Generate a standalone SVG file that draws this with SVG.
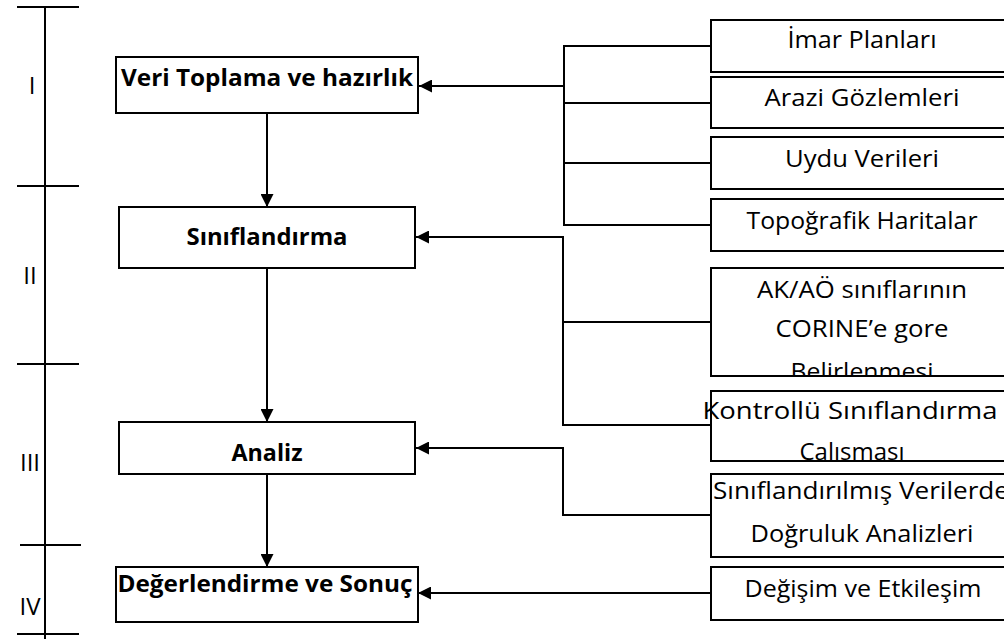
<svg xmlns="http://www.w3.org/2000/svg" width="1004" height="639" viewBox="0 0 1004 639">
<style>
.box{fill:#fff;stroke:#000;stroke-width:2}
.ln{fill:none;stroke:#000;stroke-width:2}
.b{font-family:"Open Sans","Liberation Sans",sans-serif;font-weight:bold;font-size:24px;fill:#000;text-anchor:middle}
.r{font-family:"Open Sans","Liberation Sans",sans-serif;font-size:24px;fill:#000;text-anchor:middle}
.n{font-family:"Open Sans","Liberation Sans",sans-serif;font-size:24px;fill:#000;text-anchor:middle}
</style>
<defs>
<marker id="ah" viewBox="0 0 10 10" refX="10" refY="5" markerWidth="14" markerHeight="13" markerUnits="userSpaceOnUse" orient="auto">
<path d="M0,0 L10,5 L0,10 z" fill="#000"/>
</marker>
<clipPath id="cE"><rect x="711" y="268" width="300" height="108"/></clipPath>
<clipPath id="cF"><rect x="690" y="391" width="320" height="70"/></clipPath>
</defs>
<rect width="1004" height="639" fill="#fff"/>

<g id="timeline">
<line class="ln" x1="45" y1="7" x2="45" y2="639"/>
<line class="ln" x1="17" y1="7" x2="79" y2="7"/>
<line class="ln" x1="17" y1="186" x2="79" y2="186"/>
<line class="ln" x1="17" y1="364" x2="79" y2="364"/>
<line class="ln" x1="20" y1="545" x2="81" y2="545"/>
<line class="ln" x1="17" y1="634" x2="79" y2="634"/>
<text class="n" x="32" y="94">I</text>
<text class="n" x="30" y="284">II</text>
<text class="n" x="30" y="471">III</text>
<text class="n" x="30" y="615">IV</text>
</g>

<g id="connectors">
<line class="ln" x1="267" y1="113" x2="267" y2="207" marker-end="url(#ah)"/>
<line class="ln" x1="267" y1="268" x2="267" y2="422" marker-end="url(#ah)"/>
<line class="ln" x1="267" y1="474" x2="267" y2="567" marker-end="url(#ah)"/>
<polyline class="ln" points="711,46 564,46 564,225 711,225"/>
<line class="ln" x1="564" y1="103" x2="711" y2="103"/>
<line class="ln" x1="564" y1="163" x2="711" y2="163"/>
<line class="ln" x1="564" y1="86" x2="419" y2="86" stroke-width="3" marker-end="url(#ah)"/>
<polyline class="ln" points="563,237 563,425 711,425"/>
<line class="ln" x1="563" y1="322" x2="711" y2="322"/>
<polyline class="ln" points="563,448 563,515 711,515"/>
<line class="ln" x1="711" y1="593" x2="418" y2="593" marker-end="url(#ah)"/>
<line class="ln" x1="564" y1="237" x2="416" y2="237" marker-end="url(#ah)"/>
<line class="ln" x1="564" y1="448" x2="416" y2="448" marker-end="url(#ah)"/>
</g>

<g id="veri">
<rect class="box" x="116" y="57" width="302" height="56"/>
<text class="b" x="267" y="86" textLength="292" lengthAdjust="spacingAndGlyphs">Veri Toplama ve hazırlık</text>
</g>
<g id="siniflandirma">
<rect class="box" x="119" y="207" width="296" height="61"/>
<text class="b" x="267" y="245" textLength="161" lengthAdjust="spacingAndGlyphs">Sınıflandırma</text>
</g>
<g id="analiz">
<rect class="box" x="119" y="422" width="296" height="52"/>
<text class="b" x="267" y="461" textLength="71" lengthAdjust="spacingAndGlyphs">Analiz</text>
</g>
<g id="degerlendirme">
<rect class="box" x="116" y="567" width="302" height="55"/>
<text class="b" x="265" y="592" textLength="295" lengthAdjust="spacingAndGlyphs">Değerlendirme ve Sonuç</text>
</g>

<g id="imar">
<rect class="box" x="711" y="20" width="310" height="52"/>
<text class="r" x="862" y="48" textLength="149" lengthAdjust="spacingAndGlyphs">İmar Planları</text>
</g>
<g id="arazi">
<rect class="box" x="711" y="77" width="310" height="51"/>
<text class="r" x="862" y="106" textLength="195" lengthAdjust="spacingAndGlyphs">Arazi Gözlemleri</text>
</g>
<g id="uydu">
<rect class="box" x="711" y="137" width="310" height="52"/>
<text class="r" x="862" y="167" textLength="154" lengthAdjust="spacingAndGlyphs">Uydu Verileri</text>
</g>
<g id="topo">
<rect class="box" x="711" y="199" width="310" height="52"/>
<text class="r" x="862" y="229" textLength="231" lengthAdjust="spacingAndGlyphs">Topoğrafik Haritalar</text>
</g>
<g id="akao">
<rect class="box" x="711" y="268" width="310" height="108"/>
<g clip-path="url(#cE)">
<text class="r" x="862" y="298" textLength="210" lengthAdjust="spacingAndGlyphs">AK/AÖ sınıflarının</text>
<text class="r" x="862" y="337" textLength="173" lengthAdjust="spacingAndGlyphs">CORINE’e gore</text>
<text class="r" x="862" y="380" textLength="143" lengthAdjust="spacingAndGlyphs">Belirlenmesi</text>
</g>
<line class="ln" x1="711" y1="376" x2="1021" y2="376"/>
</g>
<g id="kontrollu">
<rect class="box" x="711" y="391" width="310" height="70"/>
<g clip-path="url(#cF)">
<text class="r" x="850" y="419" textLength="295" lengthAdjust="spacingAndGlyphs">Kontrollü Sınıflandırma</text>
<text class="r" x="852" y="460">Çalışması</text>
</g>
<line class="ln" x1="711" y1="461" x2="1021" y2="461"/>
</g>
<g id="dogruluk">
<rect class="box" x="711" y="474" width="310" height="83"/>
<text class="r" x="861" y="499" textLength="296" lengthAdjust="spacingAndGlyphs">Sınıflandırılmış Verilerde</text>
<text class="r" x="862" y="542" textLength="223" lengthAdjust="spacingAndGlyphs">Doğruluk Analizleri</text>
</g>
<g id="degisim">
<rect class="box" x="711" y="567" width="310" height="53"/>
<text class="r" x="863" y="597" textLength="237" lengthAdjust="spacingAndGlyphs">Değişim ve Etkileşim</text>
</g>
</svg>
